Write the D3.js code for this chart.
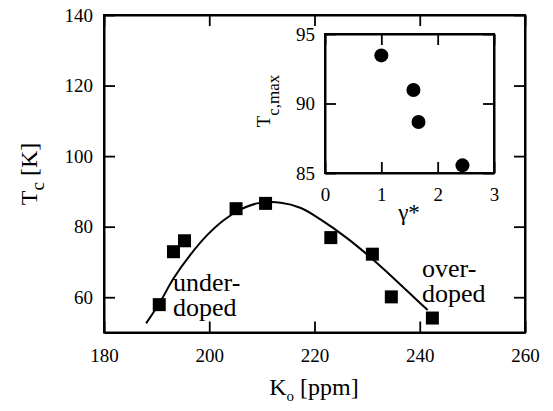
<!DOCTYPE html>
<html><head><meta charset="utf-8">
<script src="https://cdn.jsdelivr.net/npm/d3@7"></script>
</head><body style="margin:0"><svg id="c" width="553" height="411"></svg>
<script>
// Main data: Tc vs Ko
const koValues = [190.5, 193.2, 195.3, 205.1, 210.7, 223.1, 231.0, 234.6, 242.4];
const tcValues = [57.9, 72.9, 76.0, 85.1, 86.6, 76.9, 72.2, 60.1, 54.1];
// Fitted guide curve
const curveKo = [188.0, 190.5, 193.2, 196.4, 199.6, 202.8, 206.0, 209.1, 213.6, 217.4, 221.2, 226.3, 232.7, 240.3, 241.5];
const curveTc = [52.6, 58.2, 65.3, 72.0, 77.6, 81.9, 84.9, 86.6, 86.8, 85.3, 82.0, 76.6, 68.6, 58.0, 56.4];
// Inset data: Tc,max vs gamma*
const gammaValues = [1.0, 1.57, 1.66, 2.44];
const tcMaxValues = [93.46, 90.97, 88.67, 85.55];
// Tick labels
const xTicks = [180, 200, 220, 240, 260];
const yTicks = [60, 80, 100, 120, 140];
const insetXTicks = [0, 1, 2, 3];
const insetYTicks = [85, 90, 95];

const FONT = "Liberation Serif";
const svg = d3.select("#c");
const x = d3.scaleLinear().domain([180, 260]).range([104, 525]);
const y = d3.scaleLinear().domain([50, 140]).range([332.5, 15]);
const TL = 11;

function styleAxis(g) {
  g.attr("font-family", null).attr("font-size", null);
  g.select(".domain").attr("stroke", "#000").attr("stroke-width", 2);
  g.selectAll(".tick line").attr("stroke", "#000").attr("stroke-width", 1.8);
  g.selectAll(".tick text").attr("font-family", FONT).attr("font-size", 19).attr("fill", "#000");
}

// main frame axes
const gx = svg.append("g").attr("transform", `translate(0,${y(50)})`)
  .call(d3.axisBottom(x).tickValues(xTicks).tickSizeInner(-TL).tickSizeOuter(0).tickPadding(16));
const gxt = svg.append("g").attr("transform", `translate(0,${y(140)})`)
  .call(d3.axisTop(x).tickValues(xTicks).tickSizeInner(-TL).tickSizeOuter(0).tickFormat(""));
const gy = svg.append("g").attr("transform", `translate(${x(180)},0)`)
  .call(d3.axisLeft(y).tickValues(yTicks).tickSizeInner(-TL).tickSizeOuter(0).tickPadding(11));
const gyr = svg.append("g").attr("transform", `translate(${x(260)},0)`)
  .call(d3.axisRight(y).tickValues(yTicks).tickSizeInner(-TL).tickSizeOuter(0).tickFormat(""));
[gx, gxt, gy, gyr].forEach(styleAxis);
svg.append("rect").attr("x", x(180)).attr("y", y(140)).attr("width", x(260) - x(180)).attr("height", y(50) - y(140))
  .attr("fill", "none").attr("stroke", "#000").attr("stroke-width", 2);

// curve
const line = d3.line().x(d => x(d[0])).y(d => y(d[1])).curve(d3.curveCatmullRom.alpha(0.5));
svg.append("path").datum(curveKo.map((k, i) => [k, curveTc[i]]))
  .attr("d", line).attr("fill", "none").attr("stroke", "#000").attr("stroke-width", 2);

// squares
const S = 13;
svg.selectAll("rect.pt").data(koValues).enter().append("rect").attr("class", "pt")
  .attr("x", (d) => x(d) - S / 2).attr("y", (d, i) => y(tcValues[i]) - S / 2)
  .attr("width", S).attr("height", S).attr("fill", "#000");

// labels
const lab = (tx, ty, s) => svg.append("text").attr("x", tx).attr("y", ty).attr("font-family", FONT).attr("font-size", 26).text(s);
lab(173, 291, "under-");
lab(173, 316, "doped");
lab(422, 277, "over-");
lab(422, 302, "doped");

// axis titles
const xt = svg.append("text").attr("x", 314).attr("y", 395).attr("text-anchor", "middle").attr("font-family", FONT).attr("font-size", 24);
xt.append("tspan").text("K");
xt.append("tspan").attr("dy", 6).attr("font-size", 15).text("o");
xt.append("tspan").attr("dy", -6).text(" [ppm]");
const yt = svg.append("text").attr("transform", "translate(37,174) rotate(-90)").attr("text-anchor", "middle").attr("font-family", FONT).attr("font-size", 24);
yt.append("tspan").text("T");
yt.append("tspan").attr("dy", 7).attr("font-size", 19).text("c");
yt.append("tspan").attr("dy", -7).text(" [K]");

// inset
const ix = d3.scaleLinear().domain([0, 3]).range([325, 494]);
const iy = d3.scaleLinear().domain([85, 95]).range([173, 34]);
svg.append("rect").attr("x", ix(0)).attr("y", iy(95)).attr("width", ix(3) - ix(0)).attr("height", iy(85) - iy(95))
  .attr("fill", "#fff").attr("stroke", "none");
const IL = 11;
const ib = svg.append("g").attr("transform", `translate(0,${iy(85)})`)
  .call(d3.axisBottom(ix).tickValues(insetXTicks).tickFormat(d3.format("d")).tickSizeInner(-IL).tickSizeOuter(0).tickPadding(15));
const it = svg.append("g").attr("transform", `translate(0,${iy(95)})`)
  .call(d3.axisTop(ix).tickValues(insetXTicks).tickSizeInner(-IL).tickSizeOuter(0).tickFormat(""));
const il = svg.append("g").attr("transform", `translate(${ix(0)},0)`)
  .call(d3.axisLeft(iy).tickValues(insetYTicks).tickFormat(d3.format("d")).tickSizeInner(-IL).tickSizeOuter(0).tickPadding(10));
const ir = svg.append("g").attr("transform", `translate(${ix(3)},0)`)
  .call(d3.axisRight(iy).tickValues(insetYTicks).tickSizeInner(-IL).tickSizeOuter(0).tickFormat(""));
[ib, it, il, ir].forEach(styleAxis);
svg.append("rect").attr("x", ix(0)).attr("y", iy(95)).attr("width", ix(3) - ix(0)).attr("height", iy(85) - iy(95))
  .attr("fill", "none").attr("stroke", "#000").attr("stroke-width", 2);
svg.selectAll("circle.ip").data(gammaValues).enter().append("circle").attr("class", "ip")
  .attr("cx", d => ix(d)).attr("cy", (d, i) => iy(tcMaxValues[i])).attr("r", 7).attr("fill", "#000");
svg.append("text").attr("x", 409).attr("y", 220).attr("text-anchor", "middle").attr("font-family", FONT).attr("font-size", 23).text("γ*");
const iyt = svg.append("text").attr("transform", "translate(270,101) rotate(-90)").attr("text-anchor", "middle").attr("font-family", FONT).attr("font-size", 19);
iyt.append("tspan").text("T");
iyt.append("tspan").attr("dy", 9).attr("font-size", 17).text("c,max");
</script></body></html>
